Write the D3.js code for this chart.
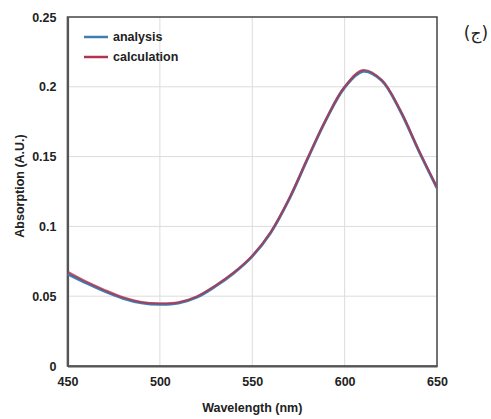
<!DOCTYPE html>
<html>
<head>
<meta charset="utf-8">
<script src="https://cdn.jsdelivr.net/npm/d3@7"></script>
<style>
  html, body { margin: 0; padding: 0; background: #fff; }
  svg { display: block; }
  .tick text { font-family: "Liberation Sans Narrow", "Liberation Sans", sans-serif; font-weight: bold; font-size: 12.5px; fill: #222; }
</style>
</head>
<body>
<svg id="chart" width="491" height="419"></svg>
<script>
// Wavelength grid (nm)
const wavelengths = [450, 460, 470, 480, 490, 500, 510, 520, 530, 540, 550,
                     560, 570, 580, 590, 600, 610, 620, 630, 640, 650];
// Measured absorption spectrum
const analysis    = [0.066, 0.0595, 0.0535, 0.0485, 0.0452, 0.0441, 0.0450, 0.0492, 0.0570, 0.0665, 0.0785,
                     0.0955, 0.1195, 0.1485, 0.1765, 0.1995, 0.2110, 0.2045, 0.1830, 0.1545, 0.1275];
// Calculated absorption spectrum
const calculation = [0.0675, 0.0605, 0.0545, 0.0492, 0.0458, 0.0448, 0.0456, 0.0498, 0.0576, 0.0670, 0.0790,
                     0.0960, 0.1200, 0.1490, 0.1770, 0.2000, 0.2120, 0.2050, 0.1835, 0.1550, 0.1280];
const xTicks = [450, 500, 550, 600, 650];
const yTicks = [0, 0.05, 0.1, 0.15, 0.2, 0.25];
const seriesNames = ["analysis", "calculation"];
const seriesColors = ["#3d7fb3", "#b0354e"];

const svg = d3.select("#chart");
const m = { left: 67.5, top: 17, right: 437, bottom: 366 };

const x = d3.scaleLinear().domain([450, 650]).range([m.left, m.right]);
const y = d3.scaleLinear().domain([0, 0.25]).range([m.bottom, m.top]);

// Gridlines
svg.append("g")
  .selectAll("line")
  .data(xTicks.slice(1, -1))
  .join("line")
  .attr("x1", d => x(d)).attr("x2", d => x(d))
  .attr("y1", m.top).attr("y2", m.bottom)
  .attr("stroke", "#dcdcdc").attr("stroke-width", 1);
svg.append("g")
  .selectAll("line")
  .data(yTicks.slice(1, -1))
  .join("line")
  .attr("x1", m.left).attr("x2", m.right)
  .attr("y1", d => y(d)).attr("y2", d => y(d))
  .attr("stroke", "#dcdcdc").attr("stroke-width", 1);

// Plot frame
svg.append("rect")
  .attr("x", m.left).attr("y", m.top)
  .attr("width", m.right - m.left).attr("height", m.bottom - m.top)
  .attr("fill", "none").attr("stroke", "#444").attr("stroke-width", 1.5);

// Axes
const fmtY = d => d === 0 ? "0" : String(d);
const xAxis = svg.append("g")
  .attr("transform", `translate(0,${m.bottom})`)
  .call(d3.axisBottom(x).tickValues(xTicks).tickSize(0).tickPadding(11).tickFormat(d3.format("d")));
const yAxis = svg.append("g")
  .attr("transform", `translate(${m.left},0)`)
  .call(d3.axisLeft(y).tickValues(yTicks).tickSize(0).tickPadding(11).tickFormat(fmtY));
xAxis.select(".domain").attr("stroke", "#555").attr("stroke-width", 2.2);
yAxis.select(".domain").attr("stroke", "#555").attr("stroke-width", 2.2);

// Spectra
const pts = vals => wavelengths.map((w, i) => [w, vals[i]]);
const line = d3.line().x(d => x(d[0])).y(d => y(d[1])).curve(d3.curveCatmullRom.alpha(0.5));
svg.append("clipPath").attr("id", "plotClip")
  .append("rect").attr("x", m.left).attr("y", m.top)
  .attr("width", m.right - m.left).attr("height", m.bottom - m.top);

svg.append("path")
  .attr("d", line(pts(analysis)))
  .attr("clip-path", "url(#plotClip)")
  .attr("fill", "none").attr("stroke", seriesColors[0]).attr("stroke-width", 2.8);
svg.append("path")
  .attr("d", line(pts(calculation)))
  .attr("clip-path", "url(#plotClip)")
  .attr("fill", "none").attr("stroke", seriesColors[1]).attr("stroke-width", 2.2)
  .attr("stroke-opacity", 0.8);

// Legend
const legend = svg.append("g");
seriesNames.forEach((name, i) => {
  const ly = 37 + i * 20;
  legend.append("line")
    .attr("x1", 84).attr("x2", 108).attr("y1", ly).attr("y2", ly)
    .attr("stroke", seriesColors[i]).attr("stroke-width", 2.5);
  legend.append("text")
    .attr("x", 113).attr("y", ly + 4)
    .attr("font-family", "'Liberation Sans Narrow', 'Liberation Sans', sans-serif")
    .attr("font-weight", "bold").attr("font-size", 12.5).attr("fill", "#222")
    .text(name);
});

// Axis titles
svg.append("text")
  .attr("x", (m.left + m.right) / 2).attr("y", 412)
  .attr("text-anchor", "middle")
  .attr("font-family", "'Liberation Sans Narrow', 'Liberation Sans', sans-serif")
  .attr("font-weight", "bold").attr("font-size", 12.5).attr("fill", "#222")
  .text("Wavelength (nm)");
svg.append("text")
  .attr("transform", "translate(24,186) rotate(-90)")
  .attr("text-anchor", "middle")
  .attr("font-family", "'Liberation Sans Narrow', 'Liberation Sans', sans-serif")
  .attr("font-weight", "bold").attr("font-size", 12.5).attr("fill", "#222")
  .text("Absorption (A.U.)");

// Panel label
svg.append("text")
  .attr("x", 476).attr("y", 39)
  .attr("text-anchor", "middle")
  .attr("font-family", "'DejaVu Sans', 'Noto Sans', sans-serif")
  .attr("font-size", 17).attr("fill", "#222")
  .text("(ج)");
</script>
</body>
</html>
